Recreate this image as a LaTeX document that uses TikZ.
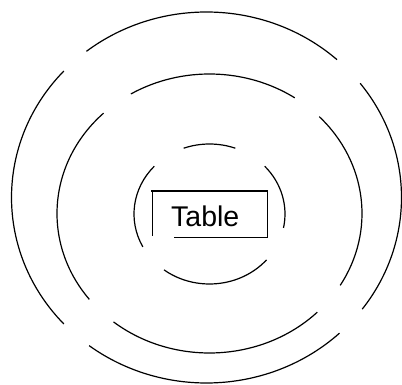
\documentclass[tikz,border=0pt]{standalone}
\usepackage{fontspec}
\setmainfont{Liberation Sans}
\begin{document}
\begin{tikzpicture}[x=1pt,y=1pt,
  ring/.style={line width=1.2pt,line cap=butt},
  label/.style={font=\fontsize{28.5}{32}\selectfont,inner sep=0pt,anchor=base west}]
\useasboundingbox (0,0) rectangle (402,385);
% outer ellipse
\foreach \a/\b in {48/128,137/223,233/313,-37/38}
  \draw[ring] (206.5,187.5) ++(\a:195 and 185.5) arc[start angle=\a,end angle=\b,x radius=195,y radius=185.5];
% middle ellipse
\foreach \a/\b in {56/121,134/218,231/315,-31/44}
  \draw[ring] (209.5,171.5) ++(\a:152.5 and 139.5) arc[start angle=\a,end angle=\b,x radius=152.5,y radius=139.5];
% inner ellipse
\foreach \a/\b in {70/110,137/208,233/319,-11.5/43}
  \draw[ring] (209.5,171) ++(\a:75.5 and 70) arc[start angle=\a,end angle=\b,x radius=75.5,y radius=70];
% table box
\draw[ring] (174,147.3) -- (267.7,147.3) -- (267.7,194) -- (151,194);
\draw[ring] (152.5,194) -- (152.5,148.5);
\node[label] (table) at (171,158.3) {Table};
\end{tikzpicture}
\end{document}
